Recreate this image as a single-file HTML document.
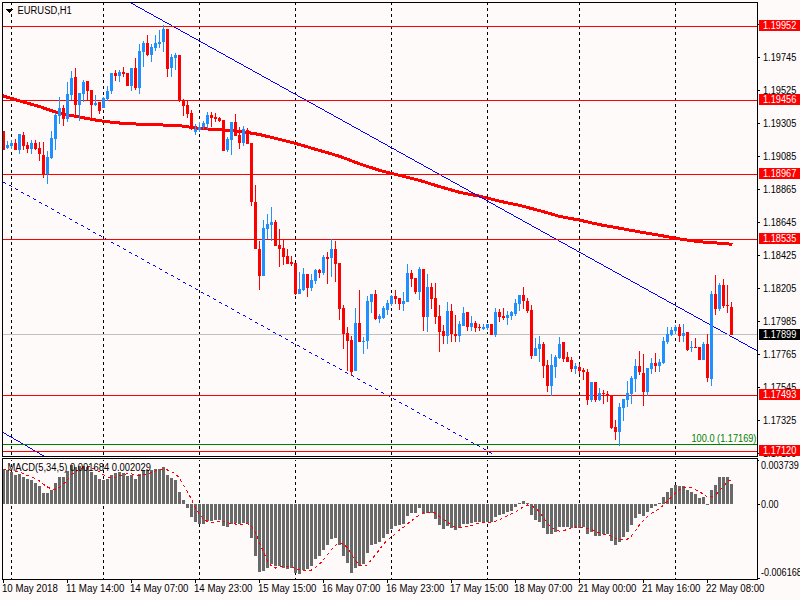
<!DOCTYPE html>
<html><head><meta charset="utf-8"><style>
html,body{margin:0;padding:0;background:#FFFAFA;overflow:hidden;}
svg{display:block;}
</style></head><body>
<svg width="800" height="600" viewBox="0 0 800 600" shape-rendering="crispEdges">
<rect x="0" y="0" width="800" height="600" fill="#FFFAFA"/><path d="M11 3h1v2h-1zM11 8h1v3h-1zM11 14h1v3h-1zM11 20h1v3h-1zM11 26h1v3h-1zM11 32h1v3h-1zM11 38h1v3h-1zM11 44h1v3h-1zM11 50h1v3h-1zM11 56h1v3h-1zM11 62h1v3h-1zM11 68h1v3h-1zM11 74h1v3h-1zM11 80h1v3h-1zM11 86h1v3h-1zM11 92h1v3h-1zM11 98h1v3h-1zM11 104h1v3h-1zM11 110h1v3h-1zM11 116h1v3h-1zM11 122h1v3h-1zM11 128h1v3h-1zM11 134h1v3h-1zM11 140h1v3h-1zM11 146h1v3h-1zM11 152h1v3h-1zM11 158h1v3h-1zM11 164h1v3h-1zM11 170h1v3h-1zM11 176h1v3h-1zM11 182h1v3h-1zM11 188h1v3h-1zM11 194h1v3h-1zM11 200h1v3h-1zM11 206h1v3h-1zM11 212h1v3h-1zM11 218h1v3h-1zM11 224h1v3h-1zM11 230h1v3h-1zM11 236h1v3h-1zM11 242h1v3h-1zM11 248h1v3h-1zM11 254h1v3h-1zM11 260h1v3h-1zM11 266h1v3h-1zM11 272h1v3h-1zM11 278h1v3h-1zM11 284h1v3h-1zM11 290h1v3h-1zM11 296h1v3h-1zM11 302h1v3h-1zM11 308h1v3h-1zM11 314h1v3h-1zM11 320h1v3h-1zM11 326h1v3h-1zM11 332h1v3h-1zM11 338h1v3h-1zM11 344h1v3h-1zM11 350h1v3h-1zM11 356h1v3h-1zM11 362h1v3h-1zM11 368h1v3h-1zM11 374h1v3h-1zM11 380h1v3h-1zM11 386h1v3h-1zM11 392h1v3h-1zM11 398h1v3h-1zM11 404h1v3h-1zM11 410h1v3h-1zM11 416h1v3h-1zM11 422h1v3h-1zM11 428h1v3h-1zM11 434h1v3h-1zM11 440h1v3h-1zM11 446h1v3h-1zM11 452h1v3h-1zM11 460h1v1h-1zM11 464h1v3h-1zM11 470h1v3h-1zM11 476h1v3h-1zM11 482h1v3h-1zM11 488h1v3h-1zM11 494h1v3h-1zM11 500h1v3h-1zM11 506h1v3h-1zM11 512h1v3h-1zM11 518h1v3h-1zM11 524h1v3h-1zM11 530h1v3h-1zM11 536h1v3h-1zM11 542h1v3h-1zM11 548h1v3h-1zM11 554h1v3h-1zM11 560h1v3h-1zM11 566h1v3h-1zM11 572h1v3h-1zM11 578h1v1h-1zM103 3h1v2h-1zM103 8h1v3h-1zM103 14h1v3h-1zM103 20h1v3h-1zM103 26h1v3h-1zM103 32h1v3h-1zM103 38h1v3h-1zM103 44h1v3h-1zM103 50h1v3h-1zM103 56h1v3h-1zM103 62h1v3h-1zM103 68h1v3h-1zM103 74h1v3h-1zM103 80h1v3h-1zM103 86h1v3h-1zM103 92h1v3h-1zM103 98h1v3h-1zM103 104h1v3h-1zM103 110h1v3h-1zM103 116h1v3h-1zM103 122h1v3h-1zM103 128h1v3h-1zM103 134h1v3h-1zM103 140h1v3h-1zM103 146h1v3h-1zM103 152h1v3h-1zM103 158h1v3h-1zM103 164h1v3h-1zM103 170h1v3h-1zM103 176h1v3h-1zM103 182h1v3h-1zM103 188h1v3h-1zM103 194h1v3h-1zM103 200h1v3h-1zM103 206h1v3h-1zM103 212h1v3h-1zM103 218h1v3h-1zM103 224h1v3h-1zM103 230h1v3h-1zM103 236h1v3h-1zM103 242h1v3h-1zM103 248h1v3h-1zM103 254h1v3h-1zM103 260h1v3h-1zM103 266h1v3h-1zM103 272h1v3h-1zM103 278h1v3h-1zM103 284h1v3h-1zM103 290h1v3h-1zM103 296h1v3h-1zM103 302h1v3h-1zM103 308h1v3h-1zM103 314h1v3h-1zM103 320h1v3h-1zM103 326h1v3h-1zM103 332h1v3h-1zM103 338h1v3h-1zM103 344h1v3h-1zM103 350h1v3h-1zM103 356h1v3h-1zM103 362h1v3h-1zM103 368h1v3h-1zM103 374h1v3h-1zM103 380h1v3h-1zM103 386h1v3h-1zM103 392h1v3h-1zM103 398h1v3h-1zM103 404h1v3h-1zM103 410h1v3h-1zM103 416h1v3h-1zM103 422h1v3h-1zM103 428h1v3h-1zM103 434h1v3h-1zM103 440h1v3h-1zM103 446h1v3h-1zM103 452h1v3h-1zM103 460h1v1h-1zM103 464h1v3h-1zM103 470h1v3h-1zM103 476h1v3h-1zM103 482h1v3h-1zM103 488h1v3h-1zM103 494h1v3h-1zM103 500h1v3h-1zM103 506h1v3h-1zM103 512h1v3h-1zM103 518h1v3h-1zM103 524h1v3h-1zM103 530h1v3h-1zM103 536h1v3h-1zM103 542h1v3h-1zM103 548h1v3h-1zM103 554h1v3h-1zM103 560h1v3h-1zM103 566h1v3h-1zM103 572h1v3h-1zM103 578h1v1h-1zM199 3h1v2h-1zM199 8h1v3h-1zM199 14h1v3h-1zM199 20h1v3h-1zM199 26h1v3h-1zM199 32h1v3h-1zM199 38h1v3h-1zM199 44h1v3h-1zM199 50h1v3h-1zM199 56h1v3h-1zM199 62h1v3h-1zM199 68h1v3h-1zM199 74h1v3h-1zM199 80h1v3h-1zM199 86h1v3h-1zM199 92h1v3h-1zM199 98h1v3h-1zM199 104h1v3h-1zM199 110h1v3h-1zM199 116h1v3h-1zM199 122h1v3h-1zM199 128h1v3h-1zM199 134h1v3h-1zM199 140h1v3h-1zM199 146h1v3h-1zM199 152h1v3h-1zM199 158h1v3h-1zM199 164h1v3h-1zM199 170h1v3h-1zM199 176h1v3h-1zM199 182h1v3h-1zM199 188h1v3h-1zM199 194h1v3h-1zM199 200h1v3h-1zM199 206h1v3h-1zM199 212h1v3h-1zM199 218h1v3h-1zM199 224h1v3h-1zM199 230h1v3h-1zM199 236h1v3h-1zM199 242h1v3h-1zM199 248h1v3h-1zM199 254h1v3h-1zM199 260h1v3h-1zM199 266h1v3h-1zM199 272h1v3h-1zM199 278h1v3h-1zM199 284h1v3h-1zM199 290h1v3h-1zM199 296h1v3h-1zM199 302h1v3h-1zM199 308h1v3h-1zM199 314h1v3h-1zM199 320h1v3h-1zM199 326h1v3h-1zM199 332h1v3h-1zM199 338h1v3h-1zM199 344h1v3h-1zM199 350h1v3h-1zM199 356h1v3h-1zM199 362h1v3h-1zM199 368h1v3h-1zM199 374h1v3h-1zM199 380h1v3h-1zM199 386h1v3h-1zM199 392h1v3h-1zM199 398h1v3h-1zM199 404h1v3h-1zM199 410h1v3h-1zM199 416h1v3h-1zM199 422h1v3h-1zM199 428h1v3h-1zM199 434h1v3h-1zM199 440h1v3h-1zM199 446h1v3h-1zM199 452h1v3h-1zM199 460h1v1h-1zM199 464h1v3h-1zM199 470h1v3h-1zM199 476h1v3h-1zM199 482h1v3h-1zM199 488h1v3h-1zM199 494h1v3h-1zM199 500h1v3h-1zM199 506h1v3h-1zM199 512h1v3h-1zM199 518h1v3h-1zM199 524h1v3h-1zM199 530h1v3h-1zM199 536h1v3h-1zM199 542h1v3h-1zM199 548h1v3h-1zM199 554h1v3h-1zM199 560h1v3h-1zM199 566h1v3h-1zM199 572h1v3h-1zM199 578h1v1h-1zM295 3h1v2h-1zM295 8h1v3h-1zM295 14h1v3h-1zM295 20h1v3h-1zM295 26h1v3h-1zM295 32h1v3h-1zM295 38h1v3h-1zM295 44h1v3h-1zM295 50h1v3h-1zM295 56h1v3h-1zM295 62h1v3h-1zM295 68h1v3h-1zM295 74h1v3h-1zM295 80h1v3h-1zM295 86h1v3h-1zM295 92h1v3h-1zM295 98h1v3h-1zM295 104h1v3h-1zM295 110h1v3h-1zM295 116h1v3h-1zM295 122h1v3h-1zM295 128h1v3h-1zM295 134h1v3h-1zM295 140h1v3h-1zM295 146h1v3h-1zM295 152h1v3h-1zM295 158h1v3h-1zM295 164h1v3h-1zM295 170h1v3h-1zM295 176h1v3h-1zM295 182h1v3h-1zM295 188h1v3h-1zM295 194h1v3h-1zM295 200h1v3h-1zM295 206h1v3h-1zM295 212h1v3h-1zM295 218h1v3h-1zM295 224h1v3h-1zM295 230h1v3h-1zM295 236h1v3h-1zM295 242h1v3h-1zM295 248h1v3h-1zM295 254h1v3h-1zM295 260h1v3h-1zM295 266h1v3h-1zM295 272h1v3h-1zM295 278h1v3h-1zM295 284h1v3h-1zM295 290h1v3h-1zM295 296h1v3h-1zM295 302h1v3h-1zM295 308h1v3h-1zM295 314h1v3h-1zM295 320h1v3h-1zM295 326h1v3h-1zM295 332h1v3h-1zM295 338h1v3h-1zM295 344h1v3h-1zM295 350h1v3h-1zM295 356h1v3h-1zM295 362h1v3h-1zM295 368h1v3h-1zM295 374h1v3h-1zM295 380h1v3h-1zM295 386h1v3h-1zM295 392h1v3h-1zM295 398h1v3h-1zM295 404h1v3h-1zM295 410h1v3h-1zM295 416h1v3h-1zM295 422h1v3h-1zM295 428h1v3h-1zM295 434h1v3h-1zM295 440h1v3h-1zM295 446h1v3h-1zM295 452h1v3h-1zM295 460h1v1h-1zM295 464h1v3h-1zM295 470h1v3h-1zM295 476h1v3h-1zM295 482h1v3h-1zM295 488h1v3h-1zM295 494h1v3h-1zM295 500h1v3h-1zM295 506h1v3h-1zM295 512h1v3h-1zM295 518h1v3h-1zM295 524h1v3h-1zM295 530h1v3h-1zM295 536h1v3h-1zM295 542h1v3h-1zM295 548h1v3h-1zM295 554h1v3h-1zM295 560h1v3h-1zM295 566h1v3h-1zM295 572h1v3h-1zM295 578h1v1h-1zM391 3h1v2h-1zM391 8h1v3h-1zM391 14h1v3h-1zM391 20h1v3h-1zM391 26h1v3h-1zM391 32h1v3h-1zM391 38h1v3h-1zM391 44h1v3h-1zM391 50h1v3h-1zM391 56h1v3h-1zM391 62h1v3h-1zM391 68h1v3h-1zM391 74h1v3h-1zM391 80h1v3h-1zM391 86h1v3h-1zM391 92h1v3h-1zM391 98h1v3h-1zM391 104h1v3h-1zM391 110h1v3h-1zM391 116h1v3h-1zM391 122h1v3h-1zM391 128h1v3h-1zM391 134h1v3h-1zM391 140h1v3h-1zM391 146h1v3h-1zM391 152h1v3h-1zM391 158h1v3h-1zM391 164h1v3h-1zM391 170h1v3h-1zM391 176h1v3h-1zM391 182h1v3h-1zM391 188h1v3h-1zM391 194h1v3h-1zM391 200h1v3h-1zM391 206h1v3h-1zM391 212h1v3h-1zM391 218h1v3h-1zM391 224h1v3h-1zM391 230h1v3h-1zM391 236h1v3h-1zM391 242h1v3h-1zM391 248h1v3h-1zM391 254h1v3h-1zM391 260h1v3h-1zM391 266h1v3h-1zM391 272h1v3h-1zM391 278h1v3h-1zM391 284h1v3h-1zM391 290h1v3h-1zM391 296h1v3h-1zM391 302h1v3h-1zM391 308h1v3h-1zM391 314h1v3h-1zM391 320h1v3h-1zM391 326h1v3h-1zM391 332h1v3h-1zM391 338h1v3h-1zM391 344h1v3h-1zM391 350h1v3h-1zM391 356h1v3h-1zM391 362h1v3h-1zM391 368h1v3h-1zM391 374h1v3h-1zM391 380h1v3h-1zM391 386h1v3h-1zM391 392h1v3h-1zM391 398h1v3h-1zM391 404h1v3h-1zM391 410h1v3h-1zM391 416h1v3h-1zM391 422h1v3h-1zM391 428h1v3h-1zM391 434h1v3h-1zM391 440h1v3h-1zM391 446h1v3h-1zM391 452h1v3h-1zM391 460h1v1h-1zM391 464h1v3h-1zM391 470h1v3h-1zM391 476h1v3h-1zM391 482h1v3h-1zM391 488h1v3h-1zM391 494h1v3h-1zM391 500h1v3h-1zM391 506h1v3h-1zM391 512h1v3h-1zM391 518h1v3h-1zM391 524h1v3h-1zM391 530h1v3h-1zM391 536h1v3h-1zM391 542h1v3h-1zM391 548h1v3h-1zM391 554h1v3h-1zM391 560h1v3h-1zM391 566h1v3h-1zM391 572h1v3h-1zM391 578h1v1h-1zM487 3h1v2h-1zM487 8h1v3h-1zM487 14h1v3h-1zM487 20h1v3h-1zM487 26h1v3h-1zM487 32h1v3h-1zM487 38h1v3h-1zM487 44h1v3h-1zM487 50h1v3h-1zM487 56h1v3h-1zM487 62h1v3h-1zM487 68h1v3h-1zM487 74h1v3h-1zM487 80h1v3h-1zM487 86h1v3h-1zM487 92h1v3h-1zM487 98h1v3h-1zM487 104h1v3h-1zM487 110h1v3h-1zM487 116h1v3h-1zM487 122h1v3h-1zM487 128h1v3h-1zM487 134h1v3h-1zM487 140h1v3h-1zM487 146h1v3h-1zM487 152h1v3h-1zM487 158h1v3h-1zM487 164h1v3h-1zM487 170h1v3h-1zM487 176h1v3h-1zM487 182h1v3h-1zM487 188h1v3h-1zM487 194h1v3h-1zM487 200h1v3h-1zM487 206h1v3h-1zM487 212h1v3h-1zM487 218h1v3h-1zM487 224h1v3h-1zM487 230h1v3h-1zM487 236h1v3h-1zM487 242h1v3h-1zM487 248h1v3h-1zM487 254h1v3h-1zM487 260h1v3h-1zM487 266h1v3h-1zM487 272h1v3h-1zM487 278h1v3h-1zM487 284h1v3h-1zM487 290h1v3h-1zM487 296h1v3h-1zM487 302h1v3h-1zM487 308h1v3h-1zM487 314h1v3h-1zM487 320h1v3h-1zM487 326h1v3h-1zM487 332h1v3h-1zM487 338h1v3h-1zM487 344h1v3h-1zM487 350h1v3h-1zM487 356h1v3h-1zM487 362h1v3h-1zM487 368h1v3h-1zM487 374h1v3h-1zM487 380h1v3h-1zM487 386h1v3h-1zM487 392h1v3h-1zM487 398h1v3h-1zM487 404h1v3h-1zM487 410h1v3h-1zM487 416h1v3h-1zM487 422h1v3h-1zM487 428h1v3h-1zM487 434h1v3h-1zM487 440h1v3h-1zM487 446h1v3h-1zM487 452h1v3h-1zM487 460h1v1h-1zM487 464h1v3h-1zM487 470h1v3h-1zM487 476h1v3h-1zM487 482h1v3h-1zM487 488h1v3h-1zM487 494h1v3h-1zM487 500h1v3h-1zM487 506h1v3h-1zM487 512h1v3h-1zM487 518h1v3h-1zM487 524h1v3h-1zM487 530h1v3h-1zM487 536h1v3h-1zM487 542h1v3h-1zM487 548h1v3h-1zM487 554h1v3h-1zM487 560h1v3h-1zM487 566h1v3h-1zM487 572h1v3h-1zM487 578h1v1h-1zM579 3h1v2h-1zM579 8h1v3h-1zM579 14h1v3h-1zM579 20h1v3h-1zM579 26h1v3h-1zM579 32h1v3h-1zM579 38h1v3h-1zM579 44h1v3h-1zM579 50h1v3h-1zM579 56h1v3h-1zM579 62h1v3h-1zM579 68h1v3h-1zM579 74h1v3h-1zM579 80h1v3h-1zM579 86h1v3h-1zM579 92h1v3h-1zM579 98h1v3h-1zM579 104h1v3h-1zM579 110h1v3h-1zM579 116h1v3h-1zM579 122h1v3h-1zM579 128h1v3h-1zM579 134h1v3h-1zM579 140h1v3h-1zM579 146h1v3h-1zM579 152h1v3h-1zM579 158h1v3h-1zM579 164h1v3h-1zM579 170h1v3h-1zM579 176h1v3h-1zM579 182h1v3h-1zM579 188h1v3h-1zM579 194h1v3h-1zM579 200h1v3h-1zM579 206h1v3h-1zM579 212h1v3h-1zM579 218h1v3h-1zM579 224h1v3h-1zM579 230h1v3h-1zM579 236h1v3h-1zM579 242h1v3h-1zM579 248h1v3h-1zM579 254h1v3h-1zM579 260h1v3h-1zM579 266h1v3h-1zM579 272h1v3h-1zM579 278h1v3h-1zM579 284h1v3h-1zM579 290h1v3h-1zM579 296h1v3h-1zM579 302h1v3h-1zM579 308h1v3h-1zM579 314h1v3h-1zM579 320h1v3h-1zM579 326h1v3h-1zM579 332h1v3h-1zM579 338h1v3h-1zM579 344h1v3h-1zM579 350h1v3h-1zM579 356h1v3h-1zM579 362h1v3h-1zM579 368h1v3h-1zM579 374h1v3h-1zM579 380h1v3h-1zM579 386h1v3h-1zM579 392h1v3h-1zM579 398h1v3h-1zM579 404h1v3h-1zM579 410h1v3h-1zM579 416h1v3h-1zM579 422h1v3h-1zM579 428h1v3h-1zM579 434h1v3h-1zM579 440h1v3h-1zM579 446h1v3h-1zM579 452h1v3h-1zM579 460h1v1h-1zM579 464h1v3h-1zM579 470h1v3h-1zM579 476h1v3h-1zM579 482h1v3h-1zM579 488h1v3h-1zM579 494h1v3h-1zM579 500h1v3h-1zM579 506h1v3h-1zM579 512h1v3h-1zM579 518h1v3h-1zM579 524h1v3h-1zM579 530h1v3h-1zM579 536h1v3h-1zM579 542h1v3h-1zM579 548h1v3h-1zM579 554h1v3h-1zM579 560h1v3h-1zM579 566h1v3h-1zM579 572h1v3h-1zM579 578h1v1h-1zM675 3h1v2h-1zM675 8h1v3h-1zM675 14h1v3h-1zM675 20h1v3h-1zM675 26h1v3h-1zM675 32h1v3h-1zM675 38h1v3h-1zM675 44h1v3h-1zM675 50h1v3h-1zM675 56h1v3h-1zM675 62h1v3h-1zM675 68h1v3h-1zM675 74h1v3h-1zM675 80h1v3h-1zM675 86h1v3h-1zM675 92h1v3h-1zM675 98h1v3h-1zM675 104h1v3h-1zM675 110h1v3h-1zM675 116h1v3h-1zM675 122h1v3h-1zM675 128h1v3h-1zM675 134h1v3h-1zM675 140h1v3h-1zM675 146h1v3h-1zM675 152h1v3h-1zM675 158h1v3h-1zM675 164h1v3h-1zM675 170h1v3h-1zM675 176h1v3h-1zM675 182h1v3h-1zM675 188h1v3h-1zM675 194h1v3h-1zM675 200h1v3h-1zM675 206h1v3h-1zM675 212h1v3h-1zM675 218h1v3h-1zM675 224h1v3h-1zM675 230h1v3h-1zM675 236h1v3h-1zM675 242h1v3h-1zM675 248h1v3h-1zM675 254h1v3h-1zM675 260h1v3h-1zM675 266h1v3h-1zM675 272h1v3h-1zM675 278h1v3h-1zM675 284h1v3h-1zM675 290h1v3h-1zM675 296h1v3h-1zM675 302h1v3h-1zM675 308h1v3h-1zM675 314h1v3h-1zM675 320h1v3h-1zM675 326h1v3h-1zM675 332h1v3h-1zM675 338h1v3h-1zM675 344h1v3h-1zM675 350h1v3h-1zM675 356h1v3h-1zM675 362h1v3h-1zM675 368h1v3h-1zM675 374h1v3h-1zM675 380h1v3h-1zM675 386h1v3h-1zM675 392h1v3h-1zM675 398h1v3h-1zM675 404h1v3h-1zM675 410h1v3h-1zM675 416h1v3h-1zM675 422h1v3h-1zM675 428h1v3h-1zM675 434h1v3h-1zM675 440h1v3h-1zM675 446h1v3h-1zM675 452h1v3h-1zM675 460h1v1h-1zM675 464h1v3h-1zM675 470h1v3h-1zM675 476h1v3h-1zM675 482h1v3h-1zM675 488h1v3h-1zM675 494h1v3h-1zM675 500h1v3h-1zM675 506h1v3h-1zM675 512h1v3h-1zM675 518h1v3h-1zM675 524h1v3h-1zM675 530h1v3h-1zM675 536h1v3h-1zM675 542h1v3h-1zM675 548h1v3h-1zM675 554h1v3h-1zM675 560h1v3h-1zM675 566h1v3h-1zM675 572h1v3h-1zM675 578h1v1h-1z" fill="#000"/><polyline points="2,95.6 20,101 40,106.75 57,112.5 75,116.25 100,120.8 110,122 125,123.6 150,124.5 175,125.5 180,125.75 200,128.5 220,129.75 240,131.25 260,134.6 295,143.25 340,156.4 360,164 380,170.5 400,175.5 420,180.5 440,186.75 460,192.5 480,196.25 500,201.25 520,205.5 540,210.75 560,216.5 580,220.25 600,224.75 620,228.25 640,232 660,235.4 680,239 700,241.75 720,243.25 732.5,244.25" fill="none" stroke="#FF0000" stroke-width="3"/><path d="M131 3h1v1h-1zM132 3h1v1h-1zM133 4h1v1h-1zM134 4h1v1h-1zM135 5h1v1h-1zM136 6h1v1h-1zM137 6h1v1h-1zM138 7h1v1h-1zM139 7h1v1h-1zM140 8h1v1h-1zM141 8h1v1h-1zM142 9h1v1h-1zM143 9h1v1h-1zM144 10h1v1h-1zM145 11h1v1h-1zM146 11h1v1h-1zM147 12h1v1h-1zM148 12h1v1h-1zM149 13h1v1h-1zM150 13h1v1h-1zM151 14h1v1h-1zM152 14h1v1h-1zM153 15h1v1h-1zM154 16h1v1h-1zM155 16h1v1h-1zM156 17h1v1h-1zM157 17h1v1h-1zM158 18h1v1h-1zM159 18h1v1h-1zM160 19h1v1h-1zM161 19h1v1h-1zM162 20h1v1h-1zM163 21h1v1h-1zM164 21h1v1h-1zM165 22h1v1h-1zM166 22h1v1h-1zM167 23h1v1h-1zM168 23h1v1h-1zM169 24h1v1h-1zM170 24h1v1h-1zM171 25h1v1h-1zM172 26h1v1h-1zM173 26h1v1h-1zM174 27h1v1h-1zM175 27h1v1h-1zM176 28h1v1h-1zM177 28h1v1h-1zM178 29h1v1h-1zM179 29h1v1h-1zM180 30h1v1h-1zM181 31h1v1h-1zM182 31h1v1h-1zM183 32h1v1h-1zM184 32h1v1h-1zM185 33h1v1h-1zM186 33h1v1h-1zM187 34h1v1h-1zM188 34h1v1h-1zM189 35h1v1h-1zM190 36h1v1h-1zM191 36h1v1h-1zM192 37h1v1h-1zM193 37h1v1h-1zM194 38h1v1h-1zM195 38h1v1h-1zM196 39h1v1h-1zM197 39h1v1h-1zM198 40h1v1h-1zM199 41h1v1h-1zM200 41h1v1h-1zM201 42h1v1h-1zM202 42h1v1h-1zM203 43h1v1h-1zM204 43h1v1h-1zM205 44h1v1h-1zM206 44h1v1h-1zM207 45h1v1h-1zM208 46h1v1h-1zM209 46h1v1h-1zM210 47h1v1h-1zM211 47h1v1h-1zM212 48h1v1h-1zM213 48h1v1h-1zM214 49h1v1h-1zM215 49h1v1h-1zM216 50h1v1h-1zM217 51h1v1h-1zM218 51h1v1h-1zM219 52h1v1h-1zM220 52h1v1h-1zM221 53h1v1h-1zM222 53h1v1h-1zM223 54h1v1h-1zM224 54h1v1h-1zM225 55h1v1h-1zM226 56h1v1h-1zM227 56h1v1h-1zM228 57h1v1h-1zM229 57h1v1h-1zM230 58h1v1h-1zM231 58h1v1h-1zM232 59h1v1h-1zM233 59h1v1h-1zM234 60h1v1h-1zM235 61h1v1h-1zM236 61h1v1h-1zM237 62h1v1h-1zM238 62h1v1h-1zM239 63h1v1h-1zM240 63h1v1h-1zM241 64h1v1h-1zM242 64h1v1h-1zM243 65h1v1h-1zM244 66h1v1h-1zM245 66h1v1h-1zM246 67h1v1h-1zM247 67h1v1h-1zM248 68h1v1h-1zM249 68h1v1h-1zM250 69h1v1h-1zM251 69h1v1h-1zM252 70h1v1h-1zM253 71h1v1h-1zM254 71h1v1h-1zM255 72h1v1h-1zM256 72h1v1h-1zM257 73h1v1h-1zM258 73h1v1h-1zM259 74h1v1h-1zM260 74h1v1h-1zM261 75h1v1h-1zM262 76h1v1h-1zM263 76h1v1h-1zM264 77h1v1h-1zM265 77h1v1h-1zM266 78h1v1h-1zM267 78h1v1h-1zM268 79h1v1h-1zM269 79h1v1h-1zM270 80h1v1h-1zM271 81h1v1h-1zM272 81h1v1h-1zM273 82h1v1h-1zM274 82h1v1h-1zM275 83h1v1h-1zM276 83h1v1h-1zM277 84h1v1h-1zM278 84h1v1h-1zM279 85h1v1h-1zM280 86h1v1h-1zM281 86h1v1h-1zM282 87h1v1h-1zM283 87h1v1h-1zM284 88h1v1h-1zM285 88h1v1h-1zM286 89h1v1h-1zM287 89h1v1h-1zM288 90h1v1h-1zM289 91h1v1h-1zM290 91h1v1h-1zM291 92h1v1h-1zM292 92h1v1h-1zM293 93h1v1h-1zM294 93h1v1h-1zM295 94h1v1h-1zM296 94h1v1h-1zM297 95h1v1h-1zM298 96h1v1h-1zM299 96h1v1h-1zM300 97h1v1h-1zM301 97h1v1h-1zM302 98h1v1h-1zM303 98h1v1h-1zM304 99h1v1h-1zM305 99h1v1h-1zM306 100h1v1h-1zM307 101h1v1h-1zM308 101h1v1h-1zM309 102h1v1h-1zM310 102h1v1h-1zM311 103h1v1h-1zM312 103h1v1h-1zM313 104h1v1h-1zM314 104h1v1h-1zM315 105h1v1h-1zM316 106h1v1h-1zM317 106h1v1h-1zM318 107h1v1h-1zM319 107h1v1h-1zM320 108h1v1h-1zM321 108h1v1h-1zM322 109h1v1h-1zM323 109h1v1h-1zM324 110h1v1h-1zM325 111h1v1h-1zM326 111h1v1h-1zM327 112h1v1h-1zM328 112h1v1h-1zM329 113h1v1h-1zM330 113h1v1h-1zM331 114h1v1h-1zM332 114h1v1h-1zM333 115h1v1h-1zM334 116h1v1h-1zM335 116h1v1h-1zM336 117h1v1h-1zM337 117h1v1h-1zM338 118h1v1h-1zM339 118h1v1h-1zM340 119h1v1h-1zM341 119h1v1h-1zM342 120h1v1h-1zM343 121h1v1h-1zM344 121h1v1h-1zM345 122h1v1h-1zM346 122h1v1h-1zM347 123h1v1h-1zM348 123h1v1h-1zM349 124h1v1h-1zM350 124h1v1h-1zM351 125h1v1h-1zM352 126h1v1h-1zM353 126h1v1h-1zM354 127h1v1h-1zM355 127h1v1h-1zM356 128h1v1h-1zM357 128h1v1h-1zM358 129h1v1h-1zM359 129h1v1h-1zM360 130h1v1h-1zM361 131h1v1h-1zM362 131h1v1h-1zM363 132h1v1h-1zM364 132h1v1h-1zM365 133h1v1h-1zM366 133h1v1h-1zM367 134h1v1h-1zM368 134h1v1h-1zM369 135h1v1h-1zM370 136h1v1h-1zM371 136h1v1h-1zM372 137h1v1h-1zM373 137h1v1h-1zM374 138h1v1h-1zM375 138h1v1h-1zM376 139h1v1h-1zM377 139h1v1h-1zM378 140h1v1h-1zM379 141h1v1h-1zM380 141h1v1h-1zM381 142h1v1h-1zM382 142h1v1h-1zM383 143h1v1h-1zM384 143h1v1h-1zM385 144h1v1h-1zM386 144h1v1h-1zM387 145h1v1h-1zM388 146h1v1h-1zM389 146h1v1h-1zM390 147h1v1h-1zM391 147h1v1h-1zM392 148h1v1h-1zM393 148h1v1h-1zM394 149h1v1h-1zM395 149h1v1h-1zM396 150h1v1h-1zM397 151h1v1h-1zM398 151h1v1h-1zM399 152h1v1h-1zM400 152h1v1h-1zM401 153h1v1h-1zM402 153h1v1h-1zM403 154h1v1h-1zM404 154h1v1h-1zM405 155h1v1h-1zM406 156h1v1h-1zM407 156h1v1h-1zM408 157h1v1h-1zM409 157h1v1h-1zM410 158h1v1h-1zM411 158h1v1h-1zM412 159h1v1h-1zM413 159h1v1h-1zM414 160h1v1h-1zM415 161h1v1h-1zM416 161h1v1h-1zM417 162h1v1h-1zM418 162h1v1h-1zM419 163h1v1h-1zM420 163h1v1h-1zM421 164h1v1h-1zM422 164h1v1h-1zM423 165h1v1h-1zM424 166h1v1h-1zM425 166h1v1h-1zM426 167h1v1h-1zM427 167h1v1h-1zM428 168h1v1h-1zM429 168h1v1h-1zM430 169h1v1h-1zM431 169h1v1h-1zM432 170h1v1h-1zM433 171h1v1h-1zM434 171h1v1h-1zM435 172h1v1h-1zM436 172h1v1h-1zM437 173h1v1h-1zM438 173h1v1h-1zM439 174h1v1h-1zM440 174h1v1h-1zM441 175h1v1h-1zM442 176h1v1h-1zM443 176h1v1h-1zM444 177h1v1h-1zM445 177h1v1h-1zM446 178h1v1h-1zM447 178h1v1h-1zM448 179h1v1h-1zM449 179h1v1h-1zM450 180h1v1h-1zM451 181h1v1h-1zM452 181h1v1h-1zM453 182h1v1h-1zM454 182h1v1h-1zM455 183h1v1h-1zM456 183h1v1h-1zM457 184h1v1h-1zM458 184h1v1h-1zM459 185h1v1h-1zM460 186h1v1h-1zM461 186h1v1h-1zM462 187h1v1h-1zM463 187h1v1h-1zM464 188h1v1h-1zM465 188h1v1h-1zM466 189h1v1h-1zM467 189h1v1h-1zM468 190h1v1h-1zM469 191h1v1h-1zM470 191h1v1h-1zM471 192h1v1h-1zM472 192h1v1h-1zM473 193h1v1h-1zM474 193h1v1h-1zM475 194h1v1h-1zM476 194h1v1h-1zM477 195h1v1h-1zM478 196h1v1h-1zM479 196h1v1h-1zM480 197h1v1h-1zM481 197h1v1h-1zM482 198h1v1h-1zM483 198h1v1h-1zM484 199h1v1h-1zM485 199h1v1h-1zM486 200h1v1h-1zM487 201h1v1h-1zM488 201h1v1h-1zM489 202h1v1h-1zM490 202h1v1h-1zM491 203h1v1h-1zM492 203h1v1h-1zM493 204h1v1h-1zM494 204h1v1h-1zM495 205h1v1h-1zM496 206h1v1h-1zM497 206h1v1h-1zM498 207h1v1h-1zM499 207h1v1h-1zM500 208h1v1h-1zM501 208h1v1h-1zM502 209h1v1h-1zM503 209h1v1h-1zM504 210h1v1h-1zM505 211h1v1h-1zM506 211h1v1h-1zM507 212h1v1h-1zM508 212h1v1h-1zM509 213h1v1h-1zM510 213h1v1h-1zM511 214h1v1h-1zM512 214h1v1h-1zM513 215h1v1h-1zM514 216h1v1h-1zM515 216h1v1h-1zM516 217h1v1h-1zM517 217h1v1h-1zM518 218h1v1h-1zM519 218h1v1h-1zM520 219h1v1h-1zM521 219h1v1h-1zM522 220h1v1h-1zM523 221h1v1h-1zM524 221h1v1h-1zM525 222h1v1h-1zM526 222h1v1h-1zM527 223h1v1h-1zM528 223h1v1h-1zM529 224h1v1h-1zM530 224h1v1h-1zM531 225h1v1h-1zM532 226h1v1h-1zM533 226h1v1h-1zM534 227h1v1h-1zM535 227h1v1h-1zM536 228h1v1h-1zM537 228h1v1h-1zM538 229h1v1h-1zM539 229h1v1h-1zM540 230h1v1h-1zM541 231h1v1h-1zM542 231h1v1h-1zM543 232h1v1h-1zM544 232h1v1h-1zM545 233h1v1h-1zM546 233h1v1h-1zM547 234h1v1h-1zM548 234h1v1h-1zM549 235h1v1h-1zM550 236h1v1h-1zM551 236h1v1h-1zM552 237h1v1h-1zM553 237h1v1h-1zM554 238h1v1h-1zM555 238h1v1h-1zM556 239h1v1h-1zM557 239h1v1h-1zM558 240h1v1h-1zM559 241h1v1h-1zM560 241h1v1h-1zM561 242h1v1h-1zM562 242h1v1h-1zM563 243h1v1h-1zM564 243h1v1h-1zM565 244h1v1h-1zM566 244h1v1h-1zM567 245h1v1h-1zM568 246h1v1h-1zM569 246h1v1h-1zM570 247h1v1h-1zM571 247h1v1h-1zM572 248h1v1h-1zM573 248h1v1h-1zM574 249h1v1h-1zM575 249h1v1h-1zM576 250h1v1h-1zM577 251h1v1h-1zM578 251h1v1h-1zM579 252h1v1h-1zM580 252h1v1h-1zM581 253h1v1h-1zM582 253h1v1h-1zM583 254h1v1h-1zM584 254h1v1h-1zM585 255h1v1h-1zM586 256h1v1h-1zM587 256h1v1h-1zM588 257h1v1h-1zM589 257h1v1h-1zM590 258h1v1h-1zM591 258h1v1h-1zM592 259h1v1h-1zM593 259h1v1h-1zM594 260h1v1h-1zM595 261h1v1h-1zM596 261h1v1h-1zM597 262h1v1h-1zM598 262h1v1h-1zM599 263h1v1h-1zM600 263h1v1h-1zM601 264h1v1h-1zM602 264h1v1h-1zM603 265h1v1h-1zM604 266h1v1h-1zM605 266h1v1h-1zM606 267h1v1h-1zM607 267h1v1h-1zM608 268h1v1h-1zM609 268h1v1h-1zM610 269h1v1h-1zM611 269h1v1h-1zM612 270h1v1h-1zM613 271h1v1h-1zM614 271h1v1h-1zM615 272h1v1h-1zM616 272h1v1h-1zM617 273h1v1h-1zM618 273h1v1h-1zM619 274h1v1h-1zM620 274h1v1h-1zM621 275h1v1h-1zM622 276h1v1h-1zM623 276h1v1h-1zM624 277h1v1h-1zM625 277h1v1h-1zM626 278h1v1h-1zM627 278h1v1h-1zM628 279h1v1h-1zM629 279h1v1h-1zM630 280h1v1h-1zM631 281h1v1h-1zM632 281h1v1h-1zM633 282h1v1h-1zM634 282h1v1h-1zM635 283h1v1h-1zM636 283h1v1h-1zM637 284h1v1h-1zM638 284h1v1h-1zM639 285h1v1h-1zM640 286h1v1h-1zM641 286h1v1h-1zM642 287h1v1h-1zM643 287h1v1h-1zM644 288h1v1h-1zM645 288h1v1h-1zM646 289h1v1h-1zM647 289h1v1h-1zM648 290h1v1h-1zM649 291h1v1h-1zM650 291h1v1h-1zM651 292h1v1h-1zM652 292h1v1h-1zM653 293h1v1h-1zM654 293h1v1h-1zM655 294h1v1h-1zM656 294h1v1h-1zM657 295h1v1h-1zM658 296h1v1h-1zM659 296h1v1h-1zM660 297h1v1h-1zM661 297h1v1h-1zM662 298h1v1h-1zM663 298h1v1h-1zM664 299h1v1h-1zM665 299h1v1h-1zM666 300h1v1h-1zM667 301h1v1h-1zM668 301h1v1h-1zM669 302h1v1h-1zM670 302h1v1h-1zM671 303h1v1h-1zM672 303h1v1h-1zM673 304h1v1h-1zM674 304h1v1h-1zM675 305h1v1h-1zM676 306h1v1h-1zM677 306h1v1h-1zM678 307h1v1h-1zM679 307h1v1h-1zM680 308h1v1h-1zM681 308h1v1h-1zM682 309h1v1h-1zM683 309h1v1h-1zM684 310h1v1h-1zM685 311h1v1h-1zM686 311h1v1h-1zM687 312h1v1h-1zM688 312h1v1h-1zM689 313h1v1h-1zM690 313h1v1h-1zM691 314h1v1h-1zM692 314h1v1h-1zM693 315h1v1h-1zM694 316h1v1h-1zM695 316h1v1h-1zM696 317h1v1h-1zM697 317h1v1h-1zM698 318h1v1h-1zM699 318h1v1h-1zM700 319h1v1h-1zM701 319h1v1h-1zM702 320h1v1h-1zM703 321h1v1h-1zM704 321h1v1h-1zM705 322h1v1h-1zM706 322h1v1h-1zM707 323h1v1h-1zM708 323h1v1h-1zM709 324h1v1h-1zM710 324h1v1h-1zM711 325h1v1h-1zM712 326h1v1h-1zM713 326h1v1h-1zM714 327h1v1h-1zM715 327h1v1h-1zM716 328h1v1h-1zM717 328h1v1h-1zM718 329h1v1h-1zM719 329h1v1h-1zM720 330h1v1h-1zM721 331h1v1h-1zM722 331h1v1h-1zM723 332h1v1h-1zM724 332h1v1h-1zM725 333h1v1h-1zM726 333h1v1h-1zM727 334h1v1h-1zM728 334h1v1h-1zM729 335h1v1h-1zM730 336h1v1h-1zM731 336h1v1h-1zM732 337h1v1h-1zM733 337h1v1h-1zM734 338h1v1h-1zM735 338h1v1h-1zM736 339h1v1h-1zM737 339h1v1h-1zM738 340h1v1h-1zM739 341h1v1h-1zM740 341h1v1h-1zM741 342h1v1h-1zM742 342h1v1h-1zM743 343h1v1h-1zM744 343h1v1h-1zM745 344h1v1h-1zM746 344h1v1h-1zM747 345h1v1h-1zM748 346h1v1h-1zM749 346h1v1h-1zM750 347h1v1h-1zM751 347h1v1h-1zM752 348h1v1h-1zM753 348h1v1h-1zM754 349h1v1h-1zM755 349h1v1h-1zM756 350h1v1h-1zM3 182h1v1h-1zM4 182h1v1h-1zM5 183h1v1h-1zM9 185h1v1h-1zM10 185h1v1h-1zM11 186h1v1h-1zM15 188h1v1h-1zM16 189h1v1h-1zM17 189h1v1h-1zM21 192h1v1h-1zM22 192h1v1h-1zM23 193h1v1h-1zM27 195h1v1h-1zM28 195h1v1h-1zM29 196h1v1h-1zM33 198h1v1h-1zM34 199h1v1h-1zM35 199h1v1h-1zM39 202h1v1h-1zM40 202h1v1h-1zM41 203h1v1h-1zM45 205h1v1h-1zM46 205h1v1h-1zM47 206h1v1h-1zM51 208h1v1h-1zM52 209h1v1h-1zM53 209h1v1h-1zM57 212h1v1h-1zM58 212h1v1h-1zM59 213h1v1h-1zM63 215h1v1h-1zM64 215h1v1h-1zM65 216h1v1h-1zM69 218h1v1h-1zM70 219h1v1h-1zM71 219h1v1h-1zM75 222h1v1h-1zM76 222h1v1h-1zM77 223h1v1h-1zM81 225h1v1h-1zM82 225h1v1h-1zM83 226h1v1h-1zM87 228h1v1h-1zM88 229h1v1h-1zM89 229h1v1h-1zM93 232h1v1h-1zM94 232h1v1h-1zM95 233h1v1h-1zM99 235h1v1h-1zM100 235h1v1h-1zM101 236h1v1h-1zM105 238h1v1h-1zM106 239h1v1h-1zM107 239h1v1h-1zM111 242h1v1h-1zM112 242h1v1h-1zM113 243h1v1h-1zM117 245h1v1h-1zM118 245h1v1h-1zM119 246h1v1h-1zM123 248h1v1h-1zM124 249h1v1h-1zM125 249h1v1h-1zM129 252h1v1h-1zM130 252h1v1h-1zM131 253h1v1h-1zM135 255h1v1h-1zM136 255h1v1h-1zM137 256h1v1h-1zM141 258h1v1h-1zM142 259h1v1h-1zM143 259h1v1h-1zM147 262h1v1h-1zM148 262h1v1h-1zM149 263h1v1h-1zM153 265h1v1h-1zM154 265h1v1h-1zM155 266h1v1h-1zM159 268h1v1h-1zM160 269h1v1h-1zM161 269h1v1h-1zM165 272h1v1h-1zM166 272h1v1h-1zM167 273h1v1h-1zM171 275h1v1h-1zM172 275h1v1h-1zM173 276h1v1h-1zM177 278h1v1h-1zM178 279h1v1h-1zM179 279h1v1h-1zM183 282h1v1h-1zM184 282h1v1h-1zM185 283h1v1h-1zM189 285h1v1h-1zM190 285h1v1h-1zM191 286h1v1h-1zM195 288h1v1h-1zM196 289h1v1h-1zM197 289h1v1h-1zM201 292h1v1h-1zM202 292h1v1h-1zM203 293h1v1h-1zM207 295h1v1h-1zM208 295h1v1h-1zM209 296h1v1h-1zM213 298h1v1h-1zM214 299h1v1h-1zM215 299h1v1h-1zM219 302h1v1h-1zM220 302h1v1h-1zM221 303h1v1h-1zM225 305h1v1h-1zM226 305h1v1h-1zM227 306h1v1h-1zM231 308h1v1h-1zM232 309h1v1h-1zM233 309h1v1h-1zM237 312h1v1h-1zM238 312h1v1h-1zM239 313h1v1h-1zM243 315h1v1h-1zM244 315h1v1h-1zM245 316h1v1h-1zM249 318h1v1h-1zM250 319h1v1h-1zM251 319h1v1h-1zM255 322h1v1h-1zM256 322h1v1h-1zM257 323h1v1h-1zM261 325h1v1h-1zM262 325h1v1h-1zM263 326h1v1h-1zM267 328h1v1h-1zM268 329h1v1h-1zM269 329h1v1h-1zM273 332h1v1h-1zM274 332h1v1h-1zM275 333h1v1h-1zM279 335h1v1h-1zM280 335h1v1h-1zM281 336h1v1h-1zM285 338h1v1h-1zM286 339h1v1h-1zM287 339h1v1h-1zM291 342h1v1h-1zM292 342h1v1h-1zM293 343h1v1h-1zM297 345h1v1h-1zM298 345h1v1h-1zM299 346h1v1h-1zM303 348h1v1h-1zM304 349h1v1h-1zM305 349h1v1h-1zM309 352h1v1h-1zM310 352h1v1h-1zM311 353h1v1h-1zM315 355h1v1h-1zM316 355h1v1h-1zM317 356h1v1h-1zM321 358h1v1h-1zM322 359h1v1h-1zM323 359h1v1h-1zM327 362h1v1h-1zM328 362h1v1h-1zM329 363h1v1h-1zM333 365h1v1h-1zM334 365h1v1h-1zM335 366h1v1h-1zM339 368h1v1h-1zM340 369h1v1h-1zM341 369h1v1h-1zM345 372h1v1h-1zM346 372h1v1h-1zM347 373h1v1h-1zM351 375h1v1h-1zM352 375h1v1h-1zM353 376h1v1h-1zM357 378h1v1h-1zM358 379h1v1h-1zM359 379h1v1h-1zM363 382h1v1h-1zM364 382h1v1h-1zM365 383h1v1h-1zM369 385h1v1h-1zM370 385h1v1h-1zM371 386h1v1h-1zM375 388h1v1h-1zM376 389h1v1h-1zM377 389h1v1h-1zM381 392h1v1h-1zM382 392h1v1h-1zM383 393h1v1h-1zM387 395h1v1h-1zM388 395h1v1h-1zM389 396h1v1h-1zM393 398h1v1h-1zM394 399h1v1h-1zM395 399h1v1h-1zM399 402h1v1h-1zM400 402h1v1h-1zM401 403h1v1h-1zM405 405h1v1h-1zM406 405h1v1h-1zM407 406h1v1h-1zM411 408h1v1h-1zM412 409h1v1h-1zM413 409h1v1h-1zM417 412h1v1h-1zM418 412h1v1h-1zM419 413h1v1h-1zM423 415h1v1h-1zM424 415h1v1h-1zM425 416h1v1h-1zM429 418h1v1h-1zM430 419h1v1h-1zM431 419h1v1h-1zM435 422h1v1h-1zM436 422h1v1h-1zM437 423h1v1h-1zM441 425h1v1h-1zM442 425h1v1h-1zM443 426h1v1h-1zM447 428h1v1h-1zM448 429h1v1h-1zM449 429h1v1h-1zM453 432h1v1h-1zM454 432h1v1h-1zM455 433h1v1h-1zM459 435h1v1h-1zM460 435h1v1h-1zM461 436h1v1h-1zM465 438h1v1h-1zM466 439h1v1h-1zM467 439h1v1h-1zM471 442h1v1h-1zM472 442h1v1h-1zM473 443h1v1h-1zM477 445h1v1h-1zM478 445h1v1h-1zM479 446h1v1h-1zM483 448h1v1h-1zM484 449h1v1h-1zM485 449h1v1h-1zM489 452h1v1h-1zM490 452h1v1h-1zM491 453h1v1h-1zM3 432h1v1h-1zM4 433h1v1h-1zM5 433h1v1h-1zM6 434h1v1h-1zM7 435h1v1h-1zM8 435h1v1h-1zM9 436h1v1h-1zM10 436h1v1h-1zM11 437h1v1h-1zM12 437h1v1h-1zM13 438h1v1h-1zM14 439h1v1h-1zM15 439h1v1h-1zM16 440h1v1h-1zM17 440h1v1h-1zM18 441h1v1h-1zM19 441h1v1h-1zM20 442h1v1h-1zM21 443h1v1h-1zM22 443h1v1h-1zM23 444h1v1h-1zM24 444h1v1h-1zM25 445h1v1h-1zM26 445h1v1h-1zM27 446h1v1h-1zM28 447h1v1h-1zM29 447h1v1h-1zM30 448h1v1h-1zM31 448h1v1h-1zM32 449h1v1h-1zM33 450h1v1h-1zM34 450h1v1h-1zM35 451h1v1h-1zM36 451h1v1h-1zM37 452h1v1h-1zM38 452h1v1h-1zM39 453h1v1h-1zM40 454h1v1h-1zM41 454h1v1h-1zM42 455h1v1h-1zM43 455h1v1h-1z" fill="#0000FF"/><rect x="3" y="26" width="754" height="1" fill="#FF0000"/><rect x="3" y="100" width="754" height="1" fill="#FF0000"/><rect x="3" y="174" width="754" height="1" fill="#FF0000"/><rect x="3" y="239" width="754" height="1" fill="#FF0000"/><rect x="3" y="395" width="754" height="1" fill="#FF0000"/><rect x="3" y="451" width="754" height="1" fill="#FF0000"/><rect x="3" y="334" width="754" height="1" fill="#C0C0C0"/><rect x="3" y="444" width="754" height="1" fill="#008000"/><path d="M3 131h1v19h-1zM3 131h2v19h-2zM15 139h1v11h-1zM14 143h3v7h-3zM23 132h1v18h-1zM22 135h3v11h-3zM27 142h1v11h-1zM26 145h3v4h-3zM35 140h1v10h-1zM34 143h3v6h-3zM39 142h1v19h-1zM38 148h3v6h-3zM43 142h1v36h-1zM42 155h3v19h-3zM63 105h1v21h-1zM62 108h3v11h-3zM75 68h1v47h-1zM74 77h3v28h-3zM87 81h1v20h-1zM86 81h3v10h-3zM91 90h1v28h-1zM90 90h3v15h-3zM99 102h1v12h-1zM98 102h3v9h-3zM115 70h1v11h-1zM114 73h3v3h-3zM123 67h1v10h-1zM122 72h3v2h-3zM127 73h1v13h-1zM126 73h3v13h-3zM135 58h1v32h-1zM134 68h3v20h-3zM147 35h1v21h-1zM146 43h3v12h-3zM167 29h1v48h-1zM166 29h3v40h-3zM179 55h1v47h-1zM178 55h3v46h-3zM183 99h1v17h-1zM182 100h3v6h-3zM187 101h1v17h-1zM186 105h3v9h-3zM191 110h1v20h-1zM190 113h3v15h-3zM211 112h1v15h-1zM210 115h3v3h-3zM215 113h1v9h-1zM214 117h3v2h-3zM219 117h1v5h-1zM218 118h3v3h-3zM223 120h1v31h-1zM222 120h3v31h-3zM235 114h1v22h-1zM234 122h3v14h-3zM239 127h1v22h-1zM238 135h3v8h-3zM247 128h1v16h-1zM246 130h3v14h-3zM251 143h1v63h-1zM250 143h3v59h-3zM255 185h1v64h-1zM254 202h3v47h-3zM259 241h1v49h-1zM258 249h3v27h-3zM275 220h1v26h-1zM274 222h3v24h-3zM279 229h1v38h-1zM278 245h3v4h-3zM283 239h1v26h-1zM282 248h3v9h-3zM287 249h1v15h-1zM286 256h3v8h-3zM291 256h1v10h-1zM290 262h3v2h-3zM295 263h1v32h-1zM294 263h3v31h-3zM307 274h1v23h-1zM306 274h3v14h-3zM319 269h1v9h-1zM318 270h3v3h-3zM327 252h1v32h-1zM326 257h3v2h-3zM335 241h1v41h-1zM334 249h3v15h-3zM339 263h1v57h-1zM338 263h3v46h-3zM343 305h1v44h-1zM342 308h3v26h-3zM347 327h1v44h-1zM346 333h3v8h-3zM351 336h1v40h-1zM350 340h3v32h-3zM359 290h1v52h-1zM358 323h3v19h-3zM375 290h1v30h-1zM374 294h3v25h-3zM395 290h1v14h-1zM394 296h3v3h-3zM399 298h1v12h-1zM398 298h3v6h-3zM411 270h1v17h-1zM410 273h3v6h-3zM415 278h1v16h-1zM414 278h3v14h-3zM423 269h1v62h-1zM422 269h3v48h-3zM431 283h1v26h-1zM430 287h3v12h-3zM435 283h1v41h-1zM434 298h3v19h-3zM439 305h1v47h-1zM438 316h3v16h-3zM443 325h1v19h-1zM442 331h3v5h-3zM451 304h1v38h-1zM450 311h3v23h-3zM455 315h1v27h-1zM454 334h3v2h-3zM467 312h1v19h-1zM466 312h3v15h-3zM475 321h1v11h-1zM474 323h3v5h-3zM479 324h1v7h-1zM478 327h3v1h-3zM491 324h1v11h-1zM490 324h3v11h-3zM499 309h1v13h-1zM498 312h3v5h-3zM503 308h1v12h-1zM502 316h3v2h-3zM523 287h1v22h-1zM522 295h3v6h-3zM527 298h1v15h-1zM526 301h3v10h-3zM531 305h1v54h-1zM530 310h3v46h-3zM543 342h1v36h-1zM542 344h3v22h-3zM547 360h1v32h-1zM546 365h3v21h-3zM563 342h1v20h-1zM562 342h3v17h-3zM567 352h1v10h-1zM566 357h3v5h-3zM571 357h1v15h-1zM570 360h3v9h-3zM579 364h1v10h-1zM578 367h3v4h-3zM583 368h1v12h-1zM582 370h3v2h-3zM587 369h1v36h-1zM586 372h3v28h-3zM595 382h1v20h-1zM594 382h3v18h-3zM603 390h1v14h-1zM602 393h3v1h-3zM607 391h1v11h-1zM606 394h3v1h-3zM611 395h1v34h-1zM610 395h3v33h-3zM615 420h1v20h-1zM614 427h3v5h-3zM639 351h1v24h-1zM638 366h3v6h-3zM643 354h1v52h-1zM642 373h3v19h-3zM655 353h1v19h-1zM654 363h3v3h-3zM679 324h1v18h-1zM678 327h3v9h-3zM687 332h1v19h-1zM686 332h3v18h-3zM695 338h1v10h-1zM694 347h3v1h-3zM699 347h1v13h-1zM698 347h3v13h-3zM707 334h1v48h-1zM706 344h3v34h-3zM715 275h1v40h-1zM714 294h3v15h-3zM723 279h1v29h-1zM722 285h3v21h-3zM727 285h1v28h-1zM726 305h3v1h-3zM731 302h1v33h-1zM730 307h3v28h-3z" fill="#FF0000"/><path d="M7 141h1v8h-1zM6 145h3v3h-3zM11 140h1v9h-1zM10 143h3v3h-3zM19 134h1v20h-1zM18 134h3v16h-3zM31 140h1v14h-1zM30 143h3v6h-3zM47 151h1v33h-1zM46 157h3v17h-3zM51 131h1v28h-1zM50 138h3v20h-3zM55 113h1v37h-1zM54 115h3v24h-3zM59 97h1v27h-1zM58 108h3v8h-3zM67 82h1v40h-1zM66 94h3v25h-3zM71 71h1v29h-1zM70 78h3v17h-3zM79 93h1v28h-1zM78 93h3v12h-3zM83 80h1v22h-1zM82 82h3v12h-3zM95 95h1v11h-1zM94 103h3v2h-3zM103 97h1v11h-1zM102 98h3v10h-3zM107 86h1v15h-1zM106 91h3v8h-3zM111 73h1v21h-1zM110 73h3v18h-3zM119 70h1v12h-1zM118 72h3v4h-3zM131 68h1v23h-1zM130 68h3v18h-3zM139 44h1v50h-1zM138 51h3v37h-3zM143 41h1v26h-1zM142 43h3v9h-3zM151 44h1v18h-1zM150 47h3v8h-3zM155 35h1v16h-1zM154 43h3v5h-3zM159 30h1v18h-1zM158 42h3v2h-3zM163 25h1v27h-1zM162 29h3v13h-3zM171 54h1v23h-1zM170 57h3v11h-3zM175 53h1v17h-1zM174 55h3v3h-3zM195 124h1v11h-1zM194 129h3v3h-3zM199 122h1v10h-1zM198 127h3v3h-3zM203 121h1v8h-1zM202 123h3v4h-3zM207 112h1v17h-1zM206 115h3v9h-3zM227 137h1v15h-1zM226 139h3v11h-3zM231 122h1v33h-1zM230 122h3v18h-3zM243 126h1v20h-1zM242 129h3v14h-3zM263 220h1v56h-1zM262 228h3v48h-3zM267 214h1v25h-1zM266 224h3v5h-3zM271 207h1v34h-1zM270 222h3v3h-3zM299 272h1v22h-1zM298 289h3v5h-3zM303 268h1v23h-1zM302 274h3v16h-3zM311 274h1v17h-1zM310 280h3v8h-3zM315 269h1v15h-1zM314 270h3v11h-3zM323 255h1v20h-1zM322 257h3v16h-3zM331 239h1v38h-1zM330 249h3v9h-3zM355 308h1v63h-1zM354 323h3v48h-3zM363 337h1v17h-1zM362 341h3v1h-3zM367 296h1v53h-1zM366 301h3v40h-3zM371 294h1v19h-1zM370 294h3v8h-3zM379 314h1v9h-1zM378 316h3v3h-3zM383 306h1v13h-1zM382 308h3v10h-3zM387 300h1v15h-1zM386 303h3v7h-3zM391 295h1v11h-1zM390 296h3v8h-3zM403 292h1v19h-1zM402 301h3v3h-3zM407 264h1v38h-1zM406 273h3v29h-3zM419 267h1v33h-1zM418 269h3v23h-3zM427 274h1v58h-1zM426 287h3v30h-3zM447 302h1v42h-1zM446 311h3v25h-3zM459 321h1v21h-1zM458 324h3v12h-3zM463 307h1v19h-1zM462 313h3v13h-3zM471 316h1v15h-1zM470 323h3v4h-3zM483 324h1v6h-1zM482 327h3v2h-3zM487 324h1v6h-1zM486 324h3v4h-3zM495 308h1v29h-1zM494 312h3v23h-3zM507 311h1v14h-1zM506 315h3v3h-3zM511 311h1v9h-1zM510 312h3v4h-3zM515 299h1v17h-1zM514 303h3v11h-3zM519 295h1v16h-1zM518 295h3v9h-3zM535 338h1v18h-1zM534 348h3v8h-3zM539 336h1v26h-1zM538 344h3v5h-3zM551 354h1v42h-1zM550 365h3v21h-3zM555 355h1v23h-1zM554 357h3v10h-3zM559 337h1v22h-1zM558 344h3v14h-3zM575 363h1v11h-1zM574 366h3v3h-3zM591 382h1v20h-1zM590 382h3v18h-3zM599 388h1v13h-1zM598 393h3v7h-3zM619 403h1v43h-1zM618 407h3v25h-3zM623 399h1v22h-1zM622 399h3v9h-3zM627 381h1v26h-1zM626 393h3v7h-3zM631 376h1v28h-1zM630 378h3v16h-3zM635 359h1v33h-1zM634 366h3v13h-3zM647 368h1v28h-1zM646 368h3v24h-3zM651 358h1v16h-1zM650 363h3v6h-3zM659 359h1v13h-1zM658 362h3v4h-3zM663 337h1v27h-1zM662 341h3v22h-3zM667 327h1v17h-1zM666 334h3v8h-3zM671 327h1v9h-1zM670 330h3v5h-3zM675 325h1v9h-1zM674 327h3v4h-3zM683 324h1v18h-1zM682 333h3v3h-3zM691 341h1v11h-1zM690 347h3v1h-3zM703 342h1v18h-1zM702 344h3v16h-3zM711 291h1v95h-1zM710 294h3v85h-3zM719 283h1v28h-1zM718 285h3v24h-3z" fill="#1E90FF"/><path d="M3 469h2v35h-2zM6 470h3v34h-3zM10 472h3v32h-3zM14 475h3v29h-3zM18 474h3v30h-3zM22 477h3v27h-3zM26 479h3v25h-3zM30 480h3v24h-3zM34 483h3v21h-3zM38 486h3v18h-3zM42 493h3v11h-3zM46 493h3v11h-3zM50 490h3v14h-3zM54 483h3v21h-3zM58 477h3v27h-3zM62 477h3v27h-3zM66 471h3v33h-3zM70 465h3v39h-3zM74 467h3v37h-3zM78 466h3v38h-3zM82 466h3v38h-3zM86 467h3v37h-3zM90 472h3v32h-3zM94 475h3v29h-3zM98 479h3v25h-3zM102 480h3v24h-3zM106 479h3v25h-3zM110 475h3v29h-3zM114 473h3v31h-3zM118 472h3v32h-3zM122 473h3v31h-3zM126 476h3v28h-3zM130 475h3v29h-3zM134 479h3v25h-3zM138 474h3v30h-3zM142 470h3v34h-3zM146 470h3v34h-3zM150 470h3v34h-3zM154 469h3v35h-3zM158 469h3v35h-3zM162 467h3v37h-3zM166 475h3v29h-3zM170 478h3v26h-3zM174 480h3v24h-3zM178 492h3v12h-3zM182 500h3v4h-3zM186 504h3v4h-3zM190 504h3v13h-3zM194 504h3v18h-3zM198 504h3v20h-3zM202 504h3v20h-3zM206 504h3v17h-3zM210 504h3v17h-3zM214 504h3v16h-3zM218 504h3v16h-3zM222 504h3v22h-3zM226 504h3v23h-3zM230 504h3v20h-3zM234 504h3v19h-3zM238 504h3v20h-3zM242 504h3v19h-3zM246 504h3v20h-3zM250 504h3v34h-3zM254 504h3v52h-3zM258 504h3v68h-3zM262 504h3v67h-3zM266 504h3v64h-3zM270 504h3v60h-3zM274 504h3v62h-3zM278 504h3v62h-3zM282 504h3v64h-3zM286 504h3v65h-3zM290 504h3v64h-3zM294 504h3v69h-3zM298 504h3v70h-3zM302 504h3v66h-3zM306 504h3v65h-3zM310 504h3v62h-3zM314 504h3v55h-3zM318 504h3v52h-3zM322 504h3v46h-3zM326 504h3v41h-3zM330 504h3v35h-3zM334 504h3v34h-3zM338 504h3v41h-3zM342 504h3v52h-3zM346 504h3v59h-3zM350 504h3v69h-3zM354 504h3v64h-3zM358 504h3v62h-3zM362 504h3v60h-3zM366 504h3v49h-3zM370 504h3v41h-3zM374 504h3v40h-3zM378 504h3v38h-3zM382 504h3v34h-3zM386 504h3v30h-3zM390 504h3v25h-3zM394 504h3v22h-3zM398 504h3v21h-3zM402 504h3v20h-3zM406 504h3v12h-3zM410 504h3v9h-3zM414 504h3v9h-3zM418 504h3v4h-3zM422 504h3v10h-3zM426 504h3v9h-3zM430 504h3v9h-3zM434 504h3v15h-3zM438 504h3v21h-3zM442 504h3v25h-3zM446 504h3v22h-3zM450 504h3v24h-3zM454 504h3v26h-3zM458 504h3v24h-3zM462 504h3v20h-3zM466 504h3v20h-3zM470 504h3v19h-3zM474 504h3v18h-3zM478 504h3v18h-3zM482 504h3v18h-3zM486 504h3v18h-3zM490 504h3v18h-3zM494 504h3v13h-3zM498 504h3v11h-3zM502 504h3v10h-3zM506 504h3v8h-3zM510 504h3v7h-3zM514 504h3v3h-3zM518 503h3v1h-3zM522 501h3v3h-3zM526 503h3v1h-3zM530 504h3v11h-3zM534 504h3v16h-3zM538 504h3v18h-3zM542 504h3v24h-3zM546 504h3v30h-3zM550 504h3v30h-3zM554 504h3v28h-3zM558 504h3v23h-3zM562 504h3v23h-3zM566 504h3v23h-3zM570 504h3v24h-3zM574 504h3v24h-3zM578 504h3v24h-3zM582 504h3v23h-3zM586 504h3v30h-3zM590 504h3v28h-3zM594 504h3v32h-3zM598 504h3v32h-3zM602 504h3v30h-3zM606 504h3v30h-3zM610 504h3v37h-3zM614 504h3v41h-3zM618 504h3v38h-3zM622 504h3v33h-3zM626 504h3v28h-3zM630 504h3v21h-3zM634 504h3v14h-3zM638 504h3v10h-3zM642 504h3v12h-3zM646 504h3v8h-3zM650 504h3v4h-3zM654 504h3v2h-3zM658 503h3v1h-3zM662 497h3v7h-3zM666 492h3v12h-3zM670 488h3v16h-3zM674 485h3v19h-3zM678 486h3v18h-3zM682 486h3v18h-3zM686 490h3v14h-3zM690 492h3v12h-3zM694 494h3v10h-3zM698 498h3v6h-3zM702 497h3v7h-3zM706 504h3v1h-3zM710 490h3v14h-3zM714 485h3v19h-3zM718 477h3v27h-3zM722 477h3v27h-3zM726 477h3v27h-3zM730 484h3v20h-3z" fill="#696969"/><polyline points="3.5,469.0 7.5,469.5 11.5,470.3 15.5,471.5 19.5,472.0 23.5,473.6 27.5,475.4 31.5,477.0 35.5,478.6 39.5,481.0 43.5,484.2 47.5,487.0 51.5,489.0 55.5,489.0 59.5,487.2 63.5,484.0 67.5,479.6 71.5,474.6 75.5,471.5 79.5,469.3 83.5,467.0 87.5,466.3 91.5,467.7 95.5,469.2 99.5,471.8 103.5,474.7 107.5,477.0 111.5,477.6 115.5,477.2 119.5,475.8 123.5,474.4 127.5,473.8 131.5,473.8 135.5,475.0 139.5,475.4 143.5,474.8 147.5,473.6 151.5,472.6 155.5,470.6 159.5,469.6 163.5,469.0 167.5,470.0 171.5,471.6 175.5,473.8 179.5,478.4 183.5,485.0 187.5,491.7 191.5,499.5 195.5,507.9 199.5,514.3 203.5,519.1 207.5,521.6 211.5,522.4 215.5,522.0 219.5,521.2 223.5,521.6 227.5,522.8 231.5,523.4 235.5,524.0 239.5,524.8 243.5,524.1 247.5,523.5 251.5,526.3 255.5,532.9 259.5,542.4 263.5,552.1 267.5,560.9 271.5,566.1 275.5,568.0 279.5,567.0 283.5,566.3 287.5,566.4 291.5,567.2 295.5,568.6 299.5,570.0 303.5,570.5 307.5,570.5 311.5,570.1 315.5,567.5 319.5,563.9 323.5,559.8 327.5,555.0 331.5,549.5 335.5,545.2 339.5,543.1 343.5,544.3 347.5,547.9 351.5,554.7 355.5,560.7 359.5,565.0 363.5,566.7 367.5,564.9 371.5,559.3 375.5,554.6 379.5,549.6 383.5,544.2 387.5,540.2 391.5,537.1 395.5,533.4 399.5,530.0 403.5,527.3 407.5,523.8 411.5,520.6 415.5,518.0 419.5,514.6 423.5,512.7 427.5,512.1 431.5,512.1 435.5,513.3 439.5,516.8 443.5,519.6 447.5,522.2 451.5,525.2 455.5,527.3 459.5,527.8 463.5,526.9 467.5,526.6 471.5,525.6 475.5,524.2 479.5,523.2 483.5,522.9 487.5,522.5 491.5,522.2 495.5,521.1 499.5,519.5 503.5,517.8 507.5,515.8 511.5,513.7 515.5,511.7 519.5,509.3 523.5,506.7 527.5,505.0 531.5,505.7 535.5,508.3 539.5,512.0 543.5,517.4 547.5,523.7 551.5,527.7 555.5,530.1 559.5,531.1 563.5,530.8 567.5,529.3 571.5,527.9 575.5,527.0 579.5,527.2 583.5,527.2 587.5,528.6 591.5,529.6 595.5,531.2 599.5,532.8 603.5,534.3 607.5,534.5 611.5,536.2 615.5,538.1 619.5,539.3 623.5,539.7 627.5,539.1 631.5,535.9 635.5,530.4 639.5,524.9 643.5,520.7 647.5,516.7 651.5,513.3 655.5,510.9 659.5,508.7 663.5,504.9 667.5,501.0 671.5,497.1 675.5,493.0 679.5,489.6 683.5,487.4 687.5,486.9 691.5,487.7 695.5,489.5 699.5,491.9 703.5,494.1 707.5,497.2 711.5,496.8 715.5,495.0 719.5,490.8 723.5,486.8 727.5,481.2 731.5,480.0" fill="none" stroke="#FF0000" stroke-width="1" stroke-dasharray="3,3"/><rect x="2" y="2" width="756" height="1" fill="#000"/><rect x="2" y="2" width="1" height="455" fill="#000"/><rect x="757" y="2" width="1" height="455" fill="#000"/><rect x="757" y="458" width="1" height="122" fill="#000"/><rect x="2" y="456" width="756" height="1" fill="#000"/><rect x="2" y="458" width="756" height="1" fill="#000"/><rect x="2" y="458" width="1" height="122" fill="#000"/><rect x="2" y="579" width="756" height="1" fill="#000"/><rect x="758" y="24" width="2" height="1" fill="#000"/><rect x="758" y="57" width="2" height="1" fill="#000"/><rect x="758" y="90" width="2" height="1" fill="#000"/><rect x="758" y="123" width="2" height="1" fill="#000"/><rect x="758" y="156" width="2" height="1" fill="#000"/><rect x="758" y="189" width="2" height="1" fill="#000"/><rect x="758" y="222" width="2" height="1" fill="#000"/><rect x="758" y="255" width="2" height="1" fill="#000"/><rect x="758" y="288" width="2" height="1" fill="#000"/><rect x="758" y="321" width="2" height="1" fill="#000"/><rect x="758" y="354" width="2" height="1" fill="#000"/><rect x="758" y="387" width="2" height="1" fill="#000"/><rect x="758" y="420" width="2" height="1" fill="#000"/><rect x="758" y="453" width="2" height="1" fill="#000"/><rect x="3" y="580" width="1" height="3" fill="#000"/><rect x="67" y="580" width="1" height="3" fill="#000"/><rect x="131" y="580" width="1" height="3" fill="#000"/><rect x="195" y="580" width="1" height="3" fill="#000"/><rect x="259" y="580" width="1" height="3" fill="#000"/><rect x="323" y="580" width="1" height="3" fill="#000"/><rect x="387" y="580" width="1" height="3" fill="#000"/><rect x="451" y="580" width="1" height="3" fill="#000"/><rect x="515" y="580" width="1" height="3" fill="#000"/><rect x="579" y="580" width="1" height="3" fill="#000"/><rect x="643" y="580" width="1" height="3" fill="#000"/><rect x="707" y="580" width="1" height="3" fill="#000"/><rect x="758" y="460" width="1" height="1" fill="#000"/><rect x="758" y="504" width="2" height="1" fill="#000"/><rect x="758" y="578" width="2" height="1" fill="#000"/><path d="M6 9h7l-3.5 4z" fill="#000"/><g font-family='"Liberation Sans", sans-serif'><text x="763" y="28" fill="#000" font-size="10" textLength="33.25" lengthAdjust="spacingAndGlyphs">1.19965</text><text x="763" y="61" fill="#000" font-size="10" textLength="33.25" lengthAdjust="spacingAndGlyphs">1.19745</text><text x="763" y="94" fill="#000" font-size="10" textLength="33.25" lengthAdjust="spacingAndGlyphs">1.19525</text><text x="763" y="127" fill="#000" font-size="10" textLength="33.25" lengthAdjust="spacingAndGlyphs">1.19305</text><text x="763" y="160" fill="#000" font-size="10" textLength="33.25" lengthAdjust="spacingAndGlyphs">1.19085</text><text x="763" y="193" fill="#000" font-size="10" textLength="33.25" lengthAdjust="spacingAndGlyphs">1.18865</text><text x="763" y="226" fill="#000" font-size="10" textLength="33.25" lengthAdjust="spacingAndGlyphs">1.18645</text><text x="763" y="259" fill="#000" font-size="10" textLength="33.25" lengthAdjust="spacingAndGlyphs">1.18425</text><text x="763" y="292" fill="#000" font-size="10" textLength="33.25" lengthAdjust="spacingAndGlyphs">1.18205</text><text x="763" y="325" fill="#000" font-size="10" textLength="33.25" lengthAdjust="spacingAndGlyphs">1.17985</text><text x="763" y="358" fill="#000" font-size="10" textLength="33.25" lengthAdjust="spacingAndGlyphs">1.17765</text><text x="763" y="391" fill="#000" font-size="10" textLength="33.25" lengthAdjust="spacingAndGlyphs">1.17545</text><text x="763" y="424" fill="#000" font-size="10" textLength="33.25" lengthAdjust="spacingAndGlyphs">1.17325</text><text x="763" y="457" fill="#000" font-size="10" textLength="33.25" lengthAdjust="spacingAndGlyphs">1.17105</text><text x="2" y="592" fill="#000" font-size="10" textLength="55.79" lengthAdjust="spacingAndGlyphs">10 May 2018</text><text x="66" y="592" fill="#000" font-size="10" textLength="58.47" lengthAdjust="spacingAndGlyphs">11 May 14:00</text><text x="130" y="592" fill="#000" font-size="10" textLength="58.47" lengthAdjust="spacingAndGlyphs">14 May 07:00</text><text x="194" y="592" fill="#000" font-size="10" textLength="58.47" lengthAdjust="spacingAndGlyphs">14 May 23:00</text><text x="258" y="592" fill="#000" font-size="10" textLength="58.47" lengthAdjust="spacingAndGlyphs">15 May 15:00</text><text x="322" y="592" fill="#000" font-size="10" textLength="58.47" lengthAdjust="spacingAndGlyphs">16 May 07:00</text><text x="386" y="592" fill="#000" font-size="10" textLength="58.47" lengthAdjust="spacingAndGlyphs">16 May 23:00</text><text x="450" y="592" fill="#000" font-size="10" textLength="58.47" lengthAdjust="spacingAndGlyphs">17 May 15:00</text><text x="514" y="592" fill="#000" font-size="10" textLength="58.47" lengthAdjust="spacingAndGlyphs">18 May 07:00</text><text x="578" y="592" fill="#000" font-size="10" textLength="58.47" lengthAdjust="spacingAndGlyphs">21 May 00:00</text><text x="642" y="592" fill="#000" font-size="10" textLength="58.47" lengthAdjust="spacingAndGlyphs">21 May 16:00</text><text x="706" y="592" fill="#000" font-size="10" textLength="58.47" lengthAdjust="spacingAndGlyphs">22 May 08:00</text><text x="761" y="469" fill="#000" font-size="10" textLength="37.74" lengthAdjust="spacingAndGlyphs">0.003739</text><text x="761" y="508" fill="#000" font-size="10" textLength="17.61" lengthAdjust="spacingAndGlyphs">0.00</text><text x="761" y="576" fill="#000" font-size="10" textLength="40.75" lengthAdjust="spacingAndGlyphs">-0.006168</text><text x="7.5" y="471" fill="#000" font-size="10" textLength="143.38" lengthAdjust="spacingAndGlyphs">MACD(5,34,5) 0.001684 0.002029</text><text x="17.5" y="14" fill="#000" font-size="10" textLength="54.31" lengthAdjust="spacingAndGlyphs">EURUSD,H1</text><text x="691.5" y="442" fill="#008000" font-size="10" textLength="64.95" lengthAdjust="spacingAndGlyphs">100.0 (1.17169)</text><rect x="759" y="20" width="41" height="11" fill="#FF0000"/><text x="763" y="29" fill="#fff" font-size="10" textLength="33.25" lengthAdjust="spacingAndGlyphs">1.19952</text><rect x="759" y="94" width="41" height="11" fill="#FF0000"/><text x="763" y="103" fill="#fff" font-size="10" textLength="33.25" lengthAdjust="spacingAndGlyphs">1.19456</text><rect x="759" y="168" width="41" height="11" fill="#FF0000"/><text x="763" y="177" fill="#fff" font-size="10" textLength="33.25" lengthAdjust="spacingAndGlyphs">1.18967</text><rect x="759" y="233" width="41" height="11" fill="#FF0000"/><text x="763" y="242" fill="#fff" font-size="10" textLength="33.25" lengthAdjust="spacingAndGlyphs">1.18535</text><rect x="759" y="329" width="41" height="11" fill="#000"/><text x="763" y="338" fill="#fff" font-size="10" textLength="33.25" lengthAdjust="spacingAndGlyphs">1.17899</text><rect x="759" y="389" width="41" height="11" fill="#FF0000"/><text x="763" y="398" fill="#fff" font-size="10" textLength="33.25" lengthAdjust="spacingAndGlyphs">1.17493</text><rect x="759" y="445" width="41" height="11" fill="#FF0000"/><text x="763" y="454" fill="#fff" font-size="10" textLength="33.25" lengthAdjust="spacingAndGlyphs">1.17120</text></g>
</svg>
</body></html>
